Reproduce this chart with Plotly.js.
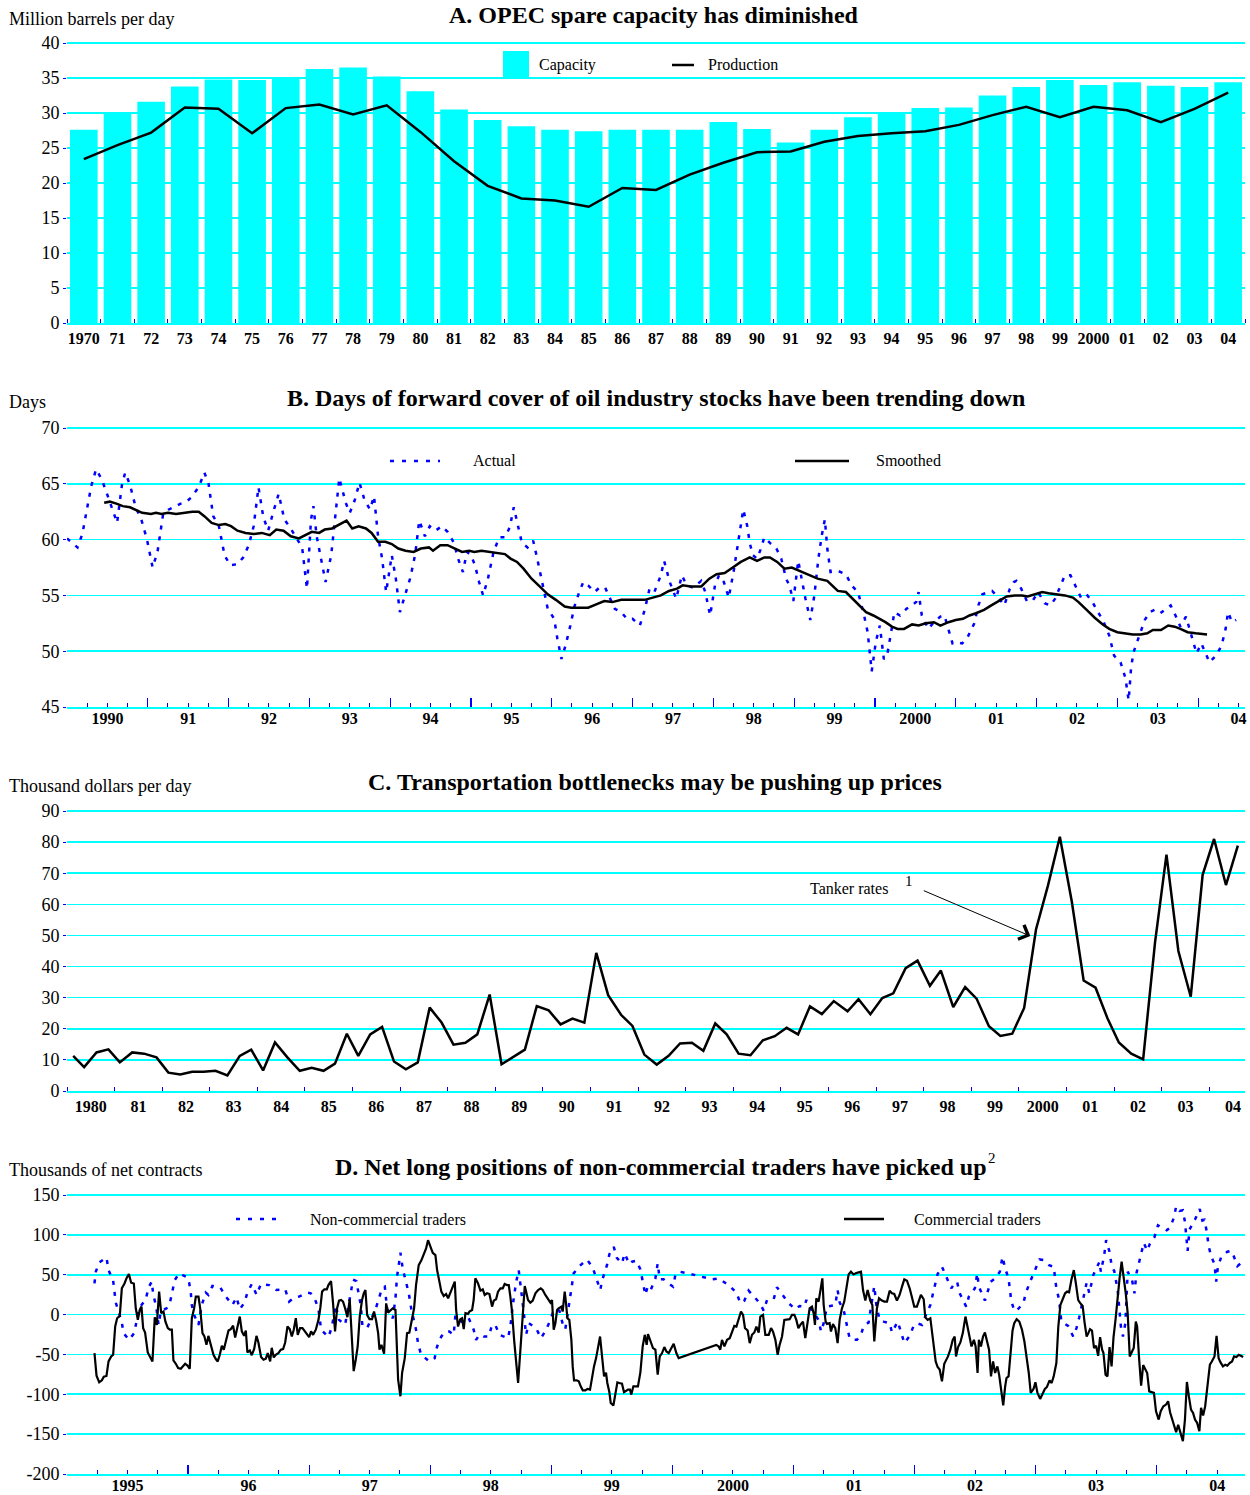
<!DOCTYPE html>
<html><head><meta charset="utf-8">
<script src="https://cdn.plot.ly/plotly-3.0.1.min.js"></script>
<style>html,body{margin:0;padding:0;background:#fff}#chart{width:1250px;height:1495px}</style>
</head><body><div id="chart"></div>
<script>
// ---------- Panel A data ----------
const capYears = [1970,1971,1972,1973,1974,1975,1976,1977,1978,1979,1980,1981,1982,1983,1984,1985,1986,1987,1988,1989,1990,1991,1992,1993,1994,1995,1996,1997,1998,1999,2000,2001,2002,2003,2004];
const capacity = [27.6,29.9,31.6,33.8,34.8,34.7,35.1,36.3,36.5,35.2,33.1,30.5,29.0,28.1,27.6,27.4,27.6,27.6,27.6,28.7,27.7,25.8,27.6,29.4,30.1,30.7,30.8,32.5,33.7,34.7,34.0,34.4,33.9,33.7,34.4];
const production = [23.4,25.4,27.2,30.8,30.6,27.1,30.7,31.2,29.8,31.1,27.3,23.1,19.6,17.8,17.5,16.6,19.3,19.0,21.2,22.9,24.4,24.5,25.9,26.7,27.1,27.4,28.3,29.7,30.9,29.4,30.9,30.4,28.7,30.6,32.9];
const capTickText = ['1970','71','72','73','74','75','76','77','78','79','80','81','82','83','84','85','86','87','88','89','90','91','92','93','94','95','96','97','98','99','2000','01','02','03','04'];

// ---------- Panel B data (decimal year, days) ----------
const actualDays = [[1990.0,60.1],[1990.13,59.3],[1990.19,60.5],[1990.30,64.8],[1990.36,66.3],[1990.43,65.4],[1990.5,64.0],[1990.62,61.5],[1990.68,64.9],[1990.72,66.0],[1990.78,64.9],[1990.85,62.9],[1990.92,61.8],[1990.99,60.0],[1991.06,57.5],[1991.12,58.9],[1991.19,62.3],[1991.26,62.7],[1991.32,62.9],[1991.4,63.2],[1991.48,63.4],[1991.54,63.8],[1991.63,64.7],[1991.7,66.0],[1991.75,65.1],[1991.81,62.1],[1991.88,61.2],[1991.95,58.6],[1992.02,57.7],[1992.11,57.8],[1992.18,58.4],[1992.25,59.5],[1992.31,61.2],[1992.37,64.7],[1992.43,62.0],[1992.49,60.8],[1992.55,62.4],[1992.62,64.1],[1992.69,61.8],[1992.76,61.1],[1992.91,59.3],[1992.97,55.6],[1993.02,61.8],[1993.05,63.0],[1993.09,60.3],[1993.15,58.1],[1993.2,56.2],[1993.27,58.6],[1993.32,61.8],[1993.37,65.5],[1993.45,63.3],[1993.5,62.4],[1993.56,63.5],[1993.62,65.1],[1993.68,63.6],[1993.75,62.7],[1993.8,63.9],[1993.85,60.3],[1993.9,58.3],[1993.95,55.3],[1994.02,58.6],[1994.07,56.5],[1994.12,53.5],[1994.18,55.0],[1994.25,56.6],[1994.31,58.7],[1994.36,61.7],[1994.43,60.3],[1994.49,61.2],[1994.56,60.8],[1994.64,61.2],[1994.71,60.7],[1994.79,59.7],[1994.84,58.3],[1994.9,57.1],[1994.95,58.9],[1995.0,58.6],[1995.05,57.7],[1995.1,56.2],[1995.15,55.0],[1995.21,56.5],[1995.28,58.9],[1995.35,60.2],[1995.42,60.2],[1995.48,61.1],[1995.53,62.9],[1995.58,61.2],[1995.63,59.7],[1995.7,59.3],[1995.77,59.9],[1995.82,58.3],[1995.89,55.9],[1995.95,53.8],[1996.03,52.9],[1996.07,51.1],[1996.12,49.3],[1996.17,50.5],[1996.23,52.3],[1996.28,54.0],[1996.34,55.3],[1996.39,56.2],[1996.45,55.9],[1996.53,55.3],[1996.59,55.7],[1996.66,55.7],[1996.78,53.8],[1996.86,53.5],[1996.93,52.9],[1997.0,52.9],[1997.09,52.3],[1997.15,53.7],[1997.21,55.6],[1997.27,55.3],[1997.35,56.8],[1997.39,58.1],[1997.46,56.2],[1997.54,54.7],[1997.61,56.8],[1997.67,55.9],[1997.75,55.7],[1997.85,56.3],[1997.9,55.3],[1997.96,53.2],[1998.02,55.9],[1998.07,56.8],[1998.13,56.2],[1998.19,54.8],[1998.25,57.1],[1998.3,59.5],[1998.33,61.2],[1998.37,62.7],[1998.42,61.2],[1998.45,59.7],[1998.49,58.6],[1998.54,58.3],[1998.59,59.2],[1998.63,60.2],[1998.7,59.7],[1998.78,59.2],[1998.84,58.3],[1998.9,56.5],[1998.94,55.9],[1998.99,54.5],[1999.05,58.1],[1999.1,56.2],[1999.14,54.7],[1999.2,52.8],[1999.25,55.0],[1999.3,58.3],[1999.34,60.3],[1999.38,61.8],[1999.41,59.2],[1999.45,57.1],[1999.54,57.2],[1999.64,56.9],[1999.71,55.9],[1999.79,55.3],[1999.86,53.4],[1999.91,51.7],[1999.96,48.2],[2000.01,50.8],[2000.06,52.3],[2000.11,49.3],[2000.15,49.6],[2000.2,51.7],[2000.24,53.5],[2000.31,53.2],[2000.39,53.8],[2000.51,54.4],[2000.54,55.3],[2000.58,53.2],[2000.66,52.0],[2000.73,52.6],[2000.81,53.1],[2000.86,53.2],[2000.91,52.0],[2000.96,50.7],[2001.0,50.8],[2001.08,50.7],[2001.15,51.3],[2001.23,52.5],[2001.28,54.1],[2001.33,55.1],[2001.45,55.4],[2001.54,54.7],[2001.6,54.1],[2001.67,55.6],[2001.72,56.2],[2001.75,56.3],[2001.81,55.6],[2001.88,54.5],[2001.95,54.5],[2002.02,55.3],[2002.1,54.3],[2002.17,54.1],[2002.23,54.7],[2002.3,55.9],[2002.35,56.8],[2002.42,56.8],[2002.48,55.9],[2002.55,54.8],[2002.62,55.1],[2002.7,54.3],[2002.76,53.5],[2002.82,52.8],[2002.9,51.4],[2002.96,49.6],[2003.04,49.0],[2003.1,47.6],[2003.14,45.6],[2003.17,48.5],[2003.2,49.9],[2003.26,51.1],[2003.34,52.8],[2003.4,53.5],[2003.46,53.7],[2003.53,53.4],[2003.61,53.8],[2003.66,54.1],[2003.72,53.2],[2003.78,52.2],[2003.85,53.1],[2003.92,51.3],[2003.98,49.8],[2004.04,50.7],[2004.14,49.0],[2004.22,49.6],[2004.29,50.5],[2004.34,52.0],[2004.37,53.5],[2004.42,52.6],[2004.47,52.8]];
const smoothedDays = [[1990.46,63.3],[1990.53,63.4],[1990.62,63.2],[1990.69,63.0],[1990.78,62.9],[1990.86,62.6],[1990.93,62.4],[1991.04,62.3],[1991.1,62.4],[1991.17,62.3],[1991.25,62.4],[1991.35,62.3],[1991.45,62.4],[1991.55,62.5],[1991.63,62.5],[1991.7,62.1],[1991.79,61.5],[1991.88,61.3],[1991.96,61.4],[1992.03,61.2],[1992.11,60.8],[1992.21,60.6],[1992.31,60.5],[1992.41,60.6],[1992.51,60.4],[1992.59,60.9],[1992.68,60.8],[1992.77,60.3],[1992.87,60.1],[1992.96,60.4],[1993.03,60.7],[1993.12,60.6],[1993.19,60.9],[1993.28,61.0],[1993.36,61.3],[1993.46,61.7],[1993.53,61.0],[1993.61,61.2],[1993.7,61.0],[1993.77,60.6],[1993.85,59.8],[1993.94,59.8],[1994.02,59.6],[1994.1,59.2],[1994.19,59.0],[1994.29,58.9],[1994.38,59.2],[1994.48,59.3],[1994.53,59.0],[1994.62,59.5],[1994.71,59.5],[1994.8,59.2],[1994.89,58.9],[1994.98,59.0],[1995.04,58.9],[1995.13,59.0],[1995.21,58.9],[1995.32,58.8],[1995.42,58.7],[1995.49,58.3],[1995.57,58.0],[1995.65,57.4],[1995.75,56.5],[1995.85,55.8],[1995.95,55.1],[1996.05,54.6],[1996.16,54.0],[1996.24,53.9],[1996.34,53.9],[1996.45,53.9],[1996.55,54.2],[1996.65,54.5],[1996.75,54.4],[1996.86,54.6],[1996.98,54.6],[1997.15,54.6],[1997.25,54.8],[1997.35,55.0],[1997.45,55.4],[1997.55,55.6],[1997.62,55.9],[1997.72,55.8],[1997.85,55.8],[1997.95,56.5],[1998.04,56.9],[1998.14,57.0],[1998.24,57.5],[1998.34,58.0],[1998.45,58.4],[1998.54,58.1],[1998.63,58.4],[1998.7,58.4],[1998.79,58.0],[1998.88,57.4],[1998.97,57.5],[1999.06,57.2],[1999.16,56.9],[1999.29,56.5],[1999.41,56.3],[1999.54,55.4],[1999.64,55.3],[1999.71,54.8],[1999.79,54.2],[1999.89,53.5],[1999.98,53.2],[2000.06,52.9],[2000.13,52.6],[2000.21,52.2],[2000.28,52.0],[2000.36,52.0],[2000.46,52.4],[2000.54,52.3],[2000.63,52.5],[2000.73,52.6],[2000.81,52.3],[2000.91,52.6],[2001.0,52.8],[2001.09,52.9],[2001.17,53.2],[2001.25,53.4],[2001.35,53.7],[2001.44,54.1],[2001.53,54.5],[2001.63,54.9],[2001.73,55.0],[2001.82,55.0],[2001.89,54.9],[2001.98,55.1],[2002.07,55.3],[2002.15,55.2],[2002.25,55.1],[2002.35,55.0],[2002.45,54.8],[2002.52,54.4],[2002.62,53.7],[2002.72,53.0],[2002.82,52.4],[2002.9,52.0],[2003.0,51.7],[2003.1,51.6],[2003.19,51.5],[2003.29,51.5],[2003.37,51.6],[2003.44,51.9],[2003.54,51.9],[2003.63,52.3],[2003.71,52.2],[2003.78,52.0],[2003.87,51.7],[2003.97,51.6],[2004.11,51.5]];
const bTickText = ['1990','91','92','93','94','95','96','97','98','99','2000','01','02','03','04'];

// ---------- Panel C data (decimal year, thousand $/day) ----------
const tankerRates = [[1980.13,11.3],[1980.36,7.7],[1980.62,12.4],[1980.87,13.4],[1981.11,9.2],[1981.37,12.4],[1981.62,12.0],[1981.88,10.8],[1982.13,5.9],[1982.38,5.3],[1982.63,6.2],[1982.87,6.2],[1983.12,6.5],[1983.37,5.0],[1983.63,11.3],[1983.87,13.3],[1984.12,6.6],[1984.37,15.6],[1984.63,10.8],[1984.89,6.5],[1985.14,7.5],[1985.39,6.5],[1985.63,8.8],[1985.88,18.4],[1986.12,11.3],[1986.37,18.2],[1986.62,20.6],[1986.87,9.5],[1987.12,7.0],[1987.37,9.2],[1987.62,26.8],[1987.87,22.0],[1988.12,14.9],[1988.37,15.5],[1988.62,18.2],[1988.88,31.0],[1989.13,8.6],[1989.37,10.8],[1989.62,13.3],[1989.87,27.3],[1990.12,25.9],[1990.37,21.4],[1990.62,23.3],[1990.87,22.0],[1991.12,44.4],[1991.37,30.8],[1991.64,24.5],[1991.88,20.9],[1992.13,11.7],[1992.39,8.5],[1992.64,11.3],[1992.88,15.3],[1993.13,15.5],[1993.37,12.9],[1993.62,21.7],[1993.86,18.2],[1994.11,12.0],[1994.36,11.5],[1994.62,16.3],[1994.87,17.6],[1995.12,20.3],[1995.36,18.2],[1995.61,27.2],[1995.86,24.7],[1996.11,28.9],[1996.4,25.6],[1996.63,29.5],[1996.88,24.7],[1997.13,29.9],[1997.36,31.4],[1997.62,39.5],[1997.87,41.9],[1998.13,33.8],[1998.36,38.7],[1998.62,27.0],[1998.87,33.4],[1999.11,29.7],[1999.37,20.8],[1999.61,17.7],[1999.86,18.4],[2000.11,26.7],[2000.36,52.0],[2000.61,66.0],[2000.86,81.7],[2001.11,61.0],[2001.36,35.5],[2001.61,33.2],[2001.86,23.4],[2002.1,15.6],[2002.36,12.0],[2002.61,10.2],[2002.86,47.8],[2003.1,76.0],[2003.35,45.0],[2003.61,30.3],[2003.86,69.5],[2004.1,81.0],[2004.35,66.2],[2004.6,78.9]];
const cTickText = ['1980','81','82','83','84','85','86','87','88','89','90','91','92','93','94','95','96','97','98','99','2000','01','02','03','04'];

// ---------- Panel D data (decimal year, thousands of net contracts) ----------
const nonCommercial = [[1995.227,39.2],[1995.238,53.8],[1995.266,65.4],[1995.326,71.7],[1995.343,55.8],[1995.381,42.5],[1995.392,28.8],[1995.403,15],[1995.453,-10],[1995.467,-23.3],[1995.513,-31.7],[1995.555,-23.3],[1995.574,-8.8],[1995.596,7.9],[1995.651,19.2],[1995.673,33.8],[1995.700,41.3],[1995.711,26.7],[1995.739,7.9],[1995.756,-13],[1995.775,3.8],[1995.822,7.9],[1995.849,14],[1995.871,29.6],[1995.890,43.3],[1995.926,51.7],[1995.959,49.6],[1995.995,46.7],[1996.009,40],[1996.023,26.7],[1996.031,12],[1996.050,-0.4],[1996.086,-13],[1996.113,12],[1996.146,27.5],[1996.168,24.6],[1996.201,35.8],[1996.267,33.8],[1996.312,22.5],[1996.367,12],[1996.400,21.7],[1996.427,6.7],[1996.466,15],[1996.490,27.5],[1996.526,38.3],[1996.567,24.6],[1996.601,38.3],[1996.669,37],[1996.730,30.8],[1996.802,31.7],[1996.835,16.3],[1996.876,21.3],[1996.917,22.5],[1996.986,27.5],[1997.013,26.7],[1997.046,20.4],[1997.077,6.7],[1997.099,-19],[1997.159,-28.3],[1997.187,-16],[1997.220,12],[1997.247,-6.7],[1997.297,-13],[1997.330,13],[1997.363,44],[1997.390,42],[1997.407,26.7],[1997.426,12],[1997.440,-14],[1997.479,-17],[1997.547,5.8],[1997.575,20.4],[1997.602,33],[1997.625,35],[1997.644,6.7],[1997.663,2.5],[1997.691,-4.6],[1997.713,20.4],[1997.726,47.5],[1997.740,62],[1997.754,77.5],[1997.773,57.5],[1997.795,44],[1997.823,26.7],[1997.845,5.8],[1997.864,-6.7],[1997.883,-19],[1997.900,-36.7],[1997.925,-50.4],[1997.960,-54.6],[1997.993,-58.8],[1998.037,-54.6],[1998.057,-40],[1998.092,-27.5],[1998.126,-21.3],[1998.158,-21.3],[1998.194,-25.4],[1998.208,-0.4],[1998.236,-3.3],[1998.258,-8.8],[1998.318,-4.6],[1998.359,-19],[1998.379,-31.7],[1998.406,-25.4],[1998.442,-27.5],[1998.483,-27.5],[1998.511,-13],[1998.538,-13],[1998.571,-25.4],[1998.643,-29.6],[1998.662,-15],[1998.682,12],[1998.695,26.7],[1998.709,40],[1998.731,55.8],[1998.745,39.2],[1998.753,26.7],[1998.772,3.8],[1998.792,-25.4],[1998.814,-10.8],[1998.874,-17],[1998.915,-29.6],[1998.957,-19],[1998.993,-6.7],[1999.020,5.8],[1999.067,5],[1999.103,-17],[1999.116,-18.3],[1999.144,10],[1999.158,22.5],[1999.171,39.2],[1999.185,51.7],[1999.232,60.8],[1999.295,69],[1999.342,59],[1999.370,45.4],[1999.405,30.8],[1999.419,42.5],[1999.441,53.8],[1999.460,62],[1999.480,75.8],[1999.516,85],[1999.543,70.8],[1999.584,64.2],[1999.606,76.7],[1999.645,63.3],[1999.667,66.3],[1999.703,67.5],[1999.736,56.7],[1999.755,43.3],[1999.777,24.6],[1999.796,35],[1999.821,30.8],[1999.860,45.4],[1999.879,64.2],[1999.896,44.2],[1999.928,44.2],[1999.962,40],[2000.006,35],[2000.025,49.6],[2000.061,53.8],[2000.154,50.8],[2000.245,47.5],[2000.328,44.2],[2000.383,45.4],[2000.410,42.5],[2000.474,35.8],[2000.529,27.5],[2000.562,14.2],[2000.595,17.5],[2000.630,30],[2000.694,19.2],[2000.727,13.3],[2000.754,5],[2000.782,18.3],[2000.837,19.2],[2000.864,34.2],[2000.911,24.6],[2000.961,14.2],[2001.016,6.7],[2001.052,10.8],[2001.090,10],[2001.107,18.3],[2001.140,7.9],[2001.181,-0.4],[2001.208,-6.7],[2001.228,-21.3],[2001.250,-10.8],[2001.277,10],[2001.319,10.8],[2001.346,12],[2001.365,30.8],[2001.382,15],[2001.415,5.8],[2001.442,-15],[2001.464,-29.6],[2001.497,-31.7],[2001.525,-31.7],[2001.558,-25.4],[2001.580,-14.2],[2001.621,-10],[2001.668,35.8],[2001.685,12],[2001.712,-6.7],[2001.745,-8.8],[2001.795,-10.8],[2001.814,-22.5],[2001.861,-8.8],[2001.888,-21.3],[2001.916,-35.8],[2001.960,-26.7],[2001.993,-14.2],[2002.020,-10.8],[2002.062,-12.9],[2002.089,-2.5],[2002.131,12],[2002.153,26.7],[2002.172,39.2],[2002.191,50.8],[2002.227,60],[2002.246,53.8],[2002.268,46.7],[2002.304,32.9],[2002.332,39.2],[2002.352,41.3],[2002.371,27.5],[2002.407,16.3],[2002.427,10],[2002.449,22.5],[2002.499,32.9],[2002.518,51.7],[2002.532,35],[2002.582,17.5],[2002.602,26.7],[2002.630,41.3],[2002.666,45.4],[2002.705,53.8],[2002.727,72.5],[2002.749,57.9],[2002.777,45.4],[2002.799,17.5],[2002.824,5],[2002.844,5],[2002.899,14.2],[2002.921,27.5],[2002.955,41.3],[2002.999,56.7],[2003.033,69.2],[2003.066,68.3],[2003.111,62],[2003.150,60],[2003.172,32.9],[2003.194,19.2],[2003.213,-8.8],[2003.269,-14.2],[2003.311,-27.5],[2003.338,-17],[2003.361,-3.3],[2003.422,40],[2003.444,26.7],[2003.477,49.6],[2003.511,60.8],[2003.528,66.3],[2003.539,53.8],[2003.566,73.3],[2003.583,93.3],[2003.611,78.8],[2003.630,60],[2003.650,54.6],[2003.678,30.8],[2003.705,-15],[2003.722,-27.5],[2003.742,-10.8],[2003.761,53.8],[2003.797,43.3],[2003.817,26.7],[2003.833,51.7],[2003.853,64.2],[2003.872,77.5],[2003.894,90],[2003.922,80],[2003.945,89.2],[2003.983,97.5],[2004.011,112],[2004.083,105.8],[2004.111,109],[2004.145,122.5],[2004.161,135.8],[2004.189,130],[2004.217,130.8],[2004.234,116.3],[2004.245,101.7],[2004.256,80],[2004.272,106.7],[2004.317,119.2],[2004.356,132.5],[2004.378,118],[2004.395,119],[2004.417,101.7],[2004.428,87],[2004.450,73.3],[2004.478,63.3],[2004.492,41.3],[2004.506,59.6],[2004.534,72.5],[2004.584,78.8],[2004.617,80],[2004.639,72.5],[2004.667,60.8],[2004.720,67.5]];
const commercial = [[1995.227,-48.3],[1995.244,-76.7],[1995.266,-85],[1995.288,-82.5],[1995.304,-78],[1995.326,-77],[1995.343,-58.8],[1995.365,-52.5],[1995.381,-50.4],[1995.398,-15],[1995.414,-4.6],[1995.436,-1.7],[1995.453,33],[1995.475,39],[1995.491,45.4],[1995.511,50.8],[1995.530,40],[1995.552,39],[1995.568,7.9],[1995.585,-6.7],[1995.601,5.8],[1995.615,10],[1995.629,-17],[1995.645,-22.5],[1995.667,-47.5],[1995.687,-52.5],[1995.706,-58.8],[1995.725,-3.3],[1995.742,-13],[1995.761,28.8],[1995.778,1.7],[1995.797,3.8],[1995.813,-8.8],[1995.833,-17],[1995.849,-19],[1995.866,-19],[1995.879,-57.5],[1995.899,-61.7],[1995.918,-67],[1995.940,-68],[1995.959,-65],[1995.976,-61.7],[1995.995,-64],[1996.014,-68],[1996.031,-4.6],[1996.050,7.9],[1996.064,22.5],[1996.086,22.5],[1996.100,7.9],[1996.119,-23.3],[1996.135,-27.5],[1996.152,-38],[1996.168,-26.7],[1996.190,-39],[1996.210,-50.4],[1996.229,-55.8],[1996.245,-58.8],[1996.262,-50.4],[1996.279,-39],[1996.295,-44],[1996.312,-31.7],[1996.334,-20],[1996.353,-18.3],[1996.372,-14],[1996.389,-28.8],[1996.411,-15],[1996.427,-2.5],[1996.444,-21],[1996.463,-26.7],[1996.477,-20],[1996.490,-47.5],[1996.510,-45],[1996.526,-51],[1996.546,-43],[1996.565,-26.7],[1996.581,-35],[1996.603,-53.3],[1996.623,-56.7],[1996.642,-55.4],[1996.658,-48.3],[1996.678,-58.8],[1996.691,-41.7],[1996.708,-53.8],[1996.724,-50.4],[1996.746,-48.3],[1996.766,-44],[1996.785,-43.3],[1996.802,-35],[1996.821,-15],[1996.840,-18.3],[1996.857,-27.5],[1996.873,-19],[1996.890,-4.6],[1996.906,-25.4],[1996.925,-17],[1996.945,-17],[1996.961,-20],[1996.978,-23.3],[1997.000,-28.3],[1997.016,-21],[1997.033,-25.4],[1997.055,-19],[1997.077,-6.7],[1997.093,9.2],[1997.107,28.8],[1997.126,31.7],[1997.146,31.7],[1997.159,37],[1997.181,42],[1997.198,13.3],[1997.214,-21],[1997.231,7.9],[1997.247,17.5],[1997.264,18.3],[1997.280,16.3],[1997.297,7.9],[1997.316,-3.3],[1997.335,19.2],[1997.352,-31.7],[1997.368,-71],[1997.385,-56.7],[1997.401,-40],[1997.418,-2.5],[1997.437,18.3],[1997.451,26.7],[1997.465,30.8],[1997.479,-0.4],[1997.498,-5.8],[1997.520,-5.8],[1997.536,3.8],[1997.553,-7.5],[1997.570,-23.3],[1997.581,-44],[1997.597,-38],[1997.619,-49],[1997.636,14],[1997.652,2.5],[1997.671,5.8],[1997.691,7.9],[1997.713,5.8],[1997.724,-52.5],[1997.735,-81.7],[1997.754,-102.5],[1997.768,-73],[1997.790,-54.6],[1997.809,-23.3],[1997.828,-22.5],[1997.845,-10.8],[1997.867,7.9],[1997.883,37],[1997.905,62],[1997.927,68],[1997.947,74.6],[1997.966,83],[1997.982,93.3],[1998.002,85],[1998.021,77.5],[1998.043,74.6],[1998.057,55.8],[1998.076,41.3],[1998.092,28.8],[1998.112,23.3],[1998.131,25.8],[1998.148,20.4],[1998.167,27.5],[1998.186,35],[1998.203,41.3],[1998.214,5.8],[1998.230,-15],[1998.249,-5.8],[1998.263,-4.6],[1998.277,-18.3],[1998.291,1.7],[1998.313,0.8],[1998.324,3.8],[1998.346,5.8],[1998.359,18.3],[1998.373,45.4],[1998.395,39.2],[1998.415,30],[1998.434,31.7],[1998.450,24.6],[1998.470,26.7],[1998.489,25.8],[1998.511,10],[1998.525,17.5],[1998.544,19.2],[1998.560,28.8],[1998.580,32.9],[1998.599,32.9],[1998.615,38.3],[1998.635,37],[1998.649,37],[1998.662,22.5],[1998.676,3.8],[1998.693,-31.7],[1998.709,-56.7],[1998.726,-85.8],[1998.745,-44],[1998.764,1.7],[1998.781,35.8],[1998.792,28.8],[1998.808,18.3],[1998.827,15],[1998.847,17.5],[1998.869,26.7],[1998.891,30.8],[1998.913,32.9],[1998.929,30.8],[1998.951,24.6],[1998.973,19.2],[1998.993,15],[1999.006,18.3],[1999.020,-19],[1999.034,-10.8],[1999.048,5.8],[1999.061,7.9],[1999.083,10],[1999.094,3.8],[1999.111,28.8],[1999.122,14],[1999.133,-4.6],[1999.149,-6.7],[1999.166,-31.7],[1999.177,-65],[1999.188,-82.5],[1999.210,-82.5],[1999.227,-83.8],[1999.243,-90],[1999.260,-95],[1999.282,-95],[1999.298,-93.3],[1999.320,-94.2],[1999.337,-77.5],[1999.353,-65],[1999.370,-54.6],[1999.386,-42],[1999.403,-27.5],[1999.419,-51.7],[1999.436,-77.5],[1999.452,-73],[1999.463,-85.8],[1999.480,-97.5],[1999.491,-110.8],[1999.513,-114],[1999.529,-100.4],[1999.546,-85],[1999.562,-85.8],[1999.584,-86.7],[1999.601,-97.5],[1999.617,-96],[1999.634,-94.2],[1999.650,-94.2],[1999.661,-100.4],[1999.678,-90],[1999.694,-90],[1999.716,-90],[1999.736,-72.5],[1999.755,-40],[1999.772,-25.4],[1999.788,-38],[1999.799,-24.6],[1999.816,-31.7],[1999.840,-42],[1999.860,-44],[1999.879,-75.4],[1999.896,-52.5],[1999.915,-48.3],[1999.934,-40.8],[1999.951,-46.3],[1999.970,-48.3],[1999.989,-42],[2000.011,-36.7],[2000.033,-48.3],[2000.052,-54.6],[2000.363,-38],[2000.383,-40],[2000.396,-44],[2000.410,-31.7],[2000.430,-40],[2000.452,-31.7],[2000.474,-29.6],[2000.493,-21.3],[2000.512,-14.2],[2000.529,-15],[2000.548,-6.7],[2000.567,3.8],[2000.584,-0.4],[2000.600,-17],[2000.622,-20],[2000.639,-35.8],[2000.658,-25.4],[2000.677,-22.5],[2000.694,-15],[2000.713,-22.5],[2000.727,-2.5],[2000.749,-0.4],[2000.768,-25.4],[2000.796,-25.4],[2000.815,-17],[2000.831,-21.3],[2000.851,-31.7],[2000.870,-50.4],[2000.886,-38],[2000.906,-27.5],[2000.925,-6.7],[2000.947,-6.7],[2000.969,-5.8],[2000.988,-0.4],[2001.008,-0.4],[2001.024,-6.7],[2001.041,-17],[2001.057,-13],[2001.079,-8.8],[2001.098,-29.6],[2001.118,-8.8],[2001.134,7.9],[2001.153,10],[2001.167,1.7],[2001.178,-13],[2001.189,20.4],[2001.208,16.3],[2001.222,30.8],[2001.239,45.4],[2001.250,12],[2001.266,-8.8],[2001.277,-11.7],[2001.299,-10.8],[2001.310,-21.3],[2001.327,-12],[2001.346,-17],[2001.365,-35.8],[2001.382,-6.7],[2001.401,7.9],[2001.420,16.3],[2001.437,30.8],[2001.456,50.4],[2001.475,53.8],[2001.497,50.4],[2001.519,52],[2001.539,52.5],[2001.558,53.8],[2001.575,30.8],[2001.594,17.5],[2001.613,30.8],[2001.635,17.5],[2001.652,12],[2001.668,-33.8],[2001.690,7.9],[2001.707,20.4],[2001.731,17.5],[2001.751,16.3],[2001.773,16.3],[2001.795,30],[2001.814,26.7],[2001.833,25.8],[2001.855,17.5],[2001.877,24.6],[2001.897,35],[2001.916,44.2],[2001.938,42.5],[2001.960,32.9],[2001.979,21.7],[2001.998,10],[2002.020,10],[2002.037,16.3],[2002.053,24.6],[2002.076,19.2],[2002.089,-3.3],[2002.109,-6.7],[2002.131,-4.6],[2002.153,-31.7],[2002.175,-58.8],[2002.191,-65.8],[2002.208,-69],[2002.227,-83.8],[2002.246,-61.7],[2002.277,-52.5],[2002.296,-44],[2002.316,-31.7],[2002.332,-27.5],[2002.343,-52.5],[2002.360,-40.8],[2002.379,-35],[2002.399,-23.3],[2002.421,-2.5],[2002.438,-15],[2002.455,-27.5],[2002.471,-40],[2002.491,-31.7],[2002.505,-40],[2002.521,-73.3],[2002.532,-31.7],[2002.549,-40],[2002.566,-27.5],[2002.582,-22.5],[2002.599,-31.7],[2002.616,-44],[2002.632,-77.5],[2002.649,-58.8],[2002.666,-73.3],[2002.685,-65],[2002.699,-75.4],[2002.716,-92],[2002.733,-114],[2002.749,-90],[2002.760,-79.6],[2002.777,-77.5],[2002.796,-40],[2002.810,-20],[2002.824,-10.8],[2002.844,-5.8],[2002.866,-8.8],[2002.888,-19],[2002.908,-33.8],[2002.927,-52.5],[2002.944,-73.3],[2002.960,-98.3],[2002.983,-93.3],[2002.999,-85],[2003.016,-98.3],[2003.038,-105.8],[2003.061,-97.5],[2003.077,-93.3],[2003.094,-90.8],[2003.116,-82.5],[2003.133,-85.8],[2003.150,-77.5],[2003.172,-60.8],[2003.188,-15],[2003.205,12],[2003.227,20.4],[2003.244,26.7],[2003.261,28.8],[2003.277,27.9],[2003.297,44.2],[2003.316,55.8],[2003.333,39.2],[2003.352,18.3],[2003.366,15],[2003.389,10.8],[2003.405,-10],[2003.422,-27.5],[2003.436,-23.3],[2003.450,-18.3],[2003.466,-20],[2003.483,-42],[2003.500,-39.2],[2003.517,-51.7],[2003.533,-28.3],[2003.550,-44],[2003.561,-48.3],[2003.578,-75.4],[2003.594,-77.5],[2003.611,-40.8],[2003.628,-65],[2003.644,-28.3],[2003.661,-5.8],[2003.678,26.7],[2003.694,45.4],[2003.711,66.3],[2003.728,47.5],[2003.745,26.7],[2003.761,1.7],[2003.778,-52.5],[2003.797,-46.3],[2003.811,-42],[2003.828,-8.8],[2003.839,-15],[2003.856,-56.7],[2003.872,-89.2],[2003.889,-63.3],[2003.906,-69.2],[2003.922,-73.3],[2003.939,-96.3],[2003.956,-97.5],[2003.978,-98.3],[2003.995,-121.3],[2004.017,-131.7],[2004.034,-121.3],[2004.056,-115],[2004.078,-112.9],[2004.095,-108.8],[2004.111,-122.5],[2004.128,-131.7],[2004.145,-140],[2004.161,-147.5],[2004.178,-138.3],[2004.195,-148.3],[2004.217,-158.8],[2004.234,-131.7],[2004.250,-84.6],[2004.267,-103.3],[2004.284,-119.2],[2004.301,-123.3],[2004.317,-131.7],[2004.334,-135.8],[2004.353,-146.3],[2004.367,-117],[2004.384,-126.7],[2004.401,-115],[2004.423,-81.7],[2004.440,-62.9],[2004.456,-58.8],[2004.478,-52.5],[2004.495,-26.7],[2004.512,-54.6],[2004.528,-60],[2004.548,-65],[2004.567,-62.9],[2004.584,-64.2],[2004.603,-60.8],[2004.623,-58.8],[2004.640,-52.5],[2004.659,-53.3],[2004.679,-50.4],[2004.701,-51.7],[2004.715,-53.3]];
const dTickText = ['1995','96','97','98','99','2000','01','02','03','04'];
const dYTickVals = [-200,-150,-100,-50,0,50,100,150];
const dYTickText = ['-200','-150','-100','-50','0','50','100','150'];

// ---------- styling / helpers ----------
const CYAN = '#00FFFF', BLUE = '#0000FF';
const FONT = 'Liberation Serif, "Times New Roman", Times, serif';
const W = 1250, H = 1495;
const px = x => x / W, py = y => 1 - y / H;
const XDOM = [px(67), px(1245)];
const xs = a => a.map(p => p[0]);
const ys = a => a.map(p => p[1]);
const seq = (a, b, s) => { const r = []; for (let v = a; v <= b + 1e-9; v += s) r.push(+v.toFixed(4)); return r; };
const quarters = (a, b, max) => { const r = []; for (let y = a; y <= b; y++) [0.25, 0.5, 0.75].forEach(q => { if (y + q <= max) r.push(y + q); }); return r; };

const xLabelFont = { family: FONT, size: 16, color: 'black', weight: 'bold' };
const yLabelFont = { family: FONT, size: 18, color: 'black' };

// y axis whose value `hi` sits at pixel row `topPx` and `lo` at `botPx`; the plot area
// is extended a little above `hi` so that the top grid line is kept by Plotly.
const PAD = 2;
function yAxis(topPx, botPx, lo, hi, tickvals, ticktext, anchor) {
  const perPx = (hi - lo) / (botPx - topPx);
  const ax = { domain: [py(botPx), py(topPx - PAD)], range: [lo, hi + PAD * perPx], anchor,
    tickmode: 'array', tickvals, ticks: 'outside', ticklen: 3, tickwidth: 1,
    tickcolor: BLUE, showgrid: true, gridcolor: CYAN, gridwidth: 1.6, zeroline: false, showline: false,
    tickfont: yLabelFont, fixedrange: true };
  if (ticktext) ax.ticktext = ticktext;
  return ax;
}
function baseX(anchor, range) {
  return { domain: XDOM, anchor, range, tickmode: 'array', tickangle: 0, showgrid: false, zeroline: false,
    showline: true, linecolor: CYAN, linewidth: 1.6, tickfont: xLabelFont, fixedrange: true };
}

const B_MAX = 2004.58, C_MAX = 2004.75, D_MAX = 2004.73;

const traces = [
  { type: 'bar', x: capYears, y: capacity, xaxis: 'x', yaxis: 'y', marker: { color: CYAN, line: { width: 0 } }, name: 'Capacity' },
  { type: 'scatter', mode: 'lines', x: capYears, y: production, xaxis: 'x', yaxis: 'y', line: { color: 'black', width: 2.5 }, name: 'Production' },
  { type: 'scatter', mode: 'lines', x: xs(actualDays), y: ys(actualDays), xaxis: 'x2', yaxis: 'y2', line: { color: BLUE, width: 2.5, dash: '4px,7px' }, name: 'Actual' },
  { type: 'scatter', mode: 'lines', x: xs(smoothedDays), y: ys(smoothedDays), xaxis: 'x2', yaxis: 'y2', line: { color: 'black', width: 2.5 }, name: 'Smoothed' },
  { type: 'scatter', mode: 'lines', x: xs(tankerRates), y: ys(tankerRates), xaxis: 'x3', yaxis: 'y3', line: { color: 'black', width: 2.5 }, name: 'Tanker rates' },
  { type: 'scatter', mode: 'lines', x: xs(nonCommercial), y: ys(nonCommercial), xaxis: 'x4', yaxis: 'y4', line: { color: BLUE, width: 2.5, dash: '4px,7px' }, name: 'Non-commercial traders' },
  { type: 'scatter', mode: 'lines', x: xs(commercial), y: ys(commercial), xaxis: 'x4', yaxis: 'y4', line: { color: 'black', width: 2.2 }, name: 'Commercial traders' },
  // empty carriers so that the label-only overlay axes are drawn
  { type: 'scatter', mode: 'lines', x: [1995], y: [null], xaxis: 'x5', yaxis: 'y2', hoverinfo: 'skip', showlegend: false },
  { type: 'scatter', mode: 'lines', x: [2000], y: [null], xaxis: 'x6', yaxis: 'y4', hoverinfo: 'skip', showlegend: false }
];

const years = (a, b) => seq(a, b, 1);

const layout = {
  width: W, height: H, margin: { l: 0, r: 0, t: 0, b: 0 },
  paper_bgcolor: 'white', plot_bgcolor: 'white', showlegend: false, bargap: 0.18,
  font: { family: FONT, color: 'black', size: 16 },
  // Panel A
  xaxis: Object.assign(baseX('y', [1969.5, 2004.5]), {
    tickvals: capYears, ticktext: capTickText, ticks: '',
    minor: { tickmode: 'array', tickvals: seq(1969.5, 2004.5, 1), ticks: 'inside', ticklen: 4, tickwidth: 1, tickcolor: BLUE, showgrid: false }
  }),
  yaxis: yAxis(43, 323, 0, 40, seq(0, 40, 5), null, 'x'),
  // Panel B
  xaxis2: Object.assign(baseX('y2', [1990, B_MAX]), {
    tickvals: years(1990, 2004), showticklabels: false, ticks: 'inside', ticklen: 9, tickwidth: 1.2, tickcolor: BLUE,
    minor: { tickmode: 'array', tickvals: quarters(1990, 2004, B_MAX), ticks: 'inside', ticklen: 4, tickwidth: 1, tickcolor: BLUE, showgrid: false }
  }),
  xaxis5: Object.assign(baseX('y2', [1990, B_MAX]), {
    overlaying: 'x2', showline: false, ticks: '', tickvals: seq(1990.5, 2004.5, 1), ticktext: bTickText
  }),
  yaxis2: yAxis(428, 707, 45, 70, seq(45, 70, 5), null, 'x2'),
  // Panel C
  xaxis3: Object.assign(baseX('y3', [1980, C_MAX]), {
    tickvals: seq(1980.5, 2004.5, 1), ticktext: cTickText, ticks: '',
    minor: { tickmode: 'array', tickvals: years(1980, 2004), ticks: 'inside', ticklen: 4, tickwidth: 1, tickcolor: BLUE, showgrid: false }
  }),
  yaxis3: yAxis(811, 1091, 0, 90, seq(0, 90, 10), null, 'x3'),
  // Panel D
  xaxis4: Object.assign(baseX('y4', [1995, D_MAX]), {
    tickvals: years(1995, 2004), showticklabels: false, ticks: 'inside', ticklen: 9, tickwidth: 1.2, tickcolor: BLUE,
    minor: { tickmode: 'array', tickvals: quarters(1995, 2004, D_MAX), ticks: 'inside', ticklen: 4, tickwidth: 1, tickcolor: BLUE, showgrid: false }
  }),
  xaxis6: Object.assign(baseX('y4', [1995, D_MAX]), {
    overlaying: 'x4', showline: false, ticks: '', tickvals: seq(1995.5, 2004.5, 1), ticktext: dTickText
  }),
  yaxis4: yAxis(1195, 1474, -200, 150, dYTickVals, dYTickText, 'x4'),
  shapes: [
    // legend swatches
    { type: 'rect', xref: 'paper', yref: 'paper', x0: px(503), x1: px(529), y0: py(78), y1: py(51), fillcolor: CYAN, line: { width: 0 } },
    { type: 'line', xref: 'paper', yref: 'paper', x0: px(672), x1: px(694), y0: py(65), y1: py(65), line: { color: 'black', width: 2.5 } },
    { type: 'line', xref: 'paper', yref: 'paper', x0: px(390), x1: px(440), y0: py(461), y1: py(461), line: { color: BLUE, width: 2.5, dash: '4px,8px' } },
    { type: 'line', xref: 'paper', yref: 'paper', x0: px(795), x1: px(849), y0: py(461), y1: py(461), line: { color: 'black', width: 2.5 } },
    { type: 'line', xref: 'paper', yref: 'paper', x0: px(236), x1: px(277), y0: py(1219), y1: py(1219), line: { color: BLUE, width: 2.5, dash: '4px,8px' } },
    { type: 'line', xref: 'paper', yref: 'paper', x0: px(844), x1: px(884), y0: py(1219), y1: py(1219), line: { color: 'black', width: 2.5 } }
  ],
  annotations: []
};

const titleFont = { family: FONT, size: 24, color: 'black', weight: 'bold' };
const unitFont = { family: FONT, size: 18, color: 'black' };
const legFont = { family: FONT, size: 16, color: 'black' };
function paperText(text, x, y, font, xanchor) {
  return { text, xref: 'paper', yref: 'paper', x: px(x), y: py(y), xanchor: xanchor || 'center', yanchor: 'middle', showarrow: false, font };
}
layout.annotations.push(
  paperText('A. OPEC spare capacity has diminished', 654, 15, titleFont),
  paperText('Million barrels per day', 7, 19, unitFont, 'left'),
  paperText('Capacity', 537, 65, legFont, 'left'),
  paperText('Production', 706, 65, legFont, 'left'),
  paperText('B. Days of forward cover of oil industry stocks have been trending down', 656, 398, titleFont),
  paperText('Days', 7, 402, unitFont, 'left'),
  paperText('Actual', 471, 461, legFont, 'left'),
  paperText('Smoothed', 874, 461, legFont, 'left'),
  paperText('C. Transportation bottlenecks may be pushing up prices', 655, 782, titleFont),
  paperText('Thousand dollars per day', 7, 786, unitFont, 'left'),
  paperText('D. Net long positions of non-commercial traders have picked up', 661, 1167, titleFont),
  paperText('2', 992, 1158, { family: FONT, size: 15, color: 'black' }, 'center'),
  paperText('Thousands of net contracts', 7, 1170, unitFont, 'left'),
  paperText('Non-commercial traders', 308, 1219, legFont, 'left'),
  paperText('Commercial traders', 912, 1219, legFont, 'left'),
  // tanker annotation (data coordinates of panel C)
  { text: 'Tanker rates', xref: 'x3', yref: 'y3', x: 1996.42, y: 65.0, showarrow: false, font: legFont, xanchor: 'center', yanchor: 'middle' },
  { text: '1', xref: 'x3', yref: 'y3', x: 1997.70, y: 67.4, showarrow: false, font: { family: FONT, size: 15, color: 'black' }, xanchor: 'center', yanchor: 'middle' },
  { text: '', xref: 'x3', yref: 'y3', x: 2000.24, y: 49.8, axref: 'x3', ayref: 'y3', ax: 1997.97, ay: 64.6,
    showarrow: true, arrowhead: 4, arrowsize: 3, arrowwidth: 1, arrowcolor: 'black', standoff: 0, startstandoff: 0 }
);

Plotly.newPlot('chart', traces, layout, { staticPlot: true, displayModeBar: false });
</script>
</body></html>
